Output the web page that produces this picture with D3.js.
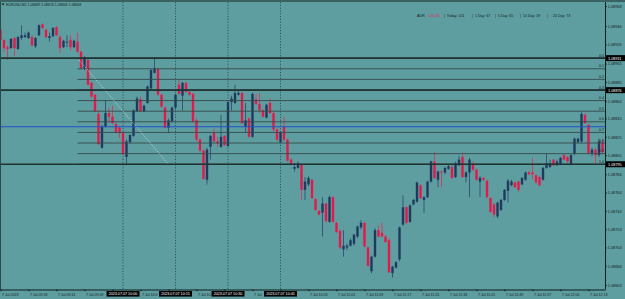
<!DOCTYPE html>
<html>
<head>
<meta charset="utf-8">
<script src="https://cdn.jsdelivr.net/npm/d3@7"></script>
<style>
  body { margin: 0; background: #5f9ea0; }
  svg { display: block; }
  text { font-family: "Liberation Sans", Arial, sans-serif; }
</style>
</head>
<body>
<svg id="chart" width="625" height="299"></svg>
<script>
// EURUSD M1, 7 Jul 2023 from 09:25 -- one row per minute: [open, high, low, close]
const symbolInfo = "EURUSD,M1  1.08669 1.08676 1.08658 1.08668";
const startTime = new Date(2023, 6, 7, 9, 25);
const candles = [
  [1.08942,1.08944,1.08930,1.08931],[1.08931,1.08931,1.08918,1.08922],[1.08923,1.08925,1.08909,1.08921],
  [1.08922,1.08933,1.08921,1.08932],[1.08933,1.08934,1.08913,1.08922],[1.08921,1.08935,1.08920,1.08934],
  [1.08933,1.08947,1.08931,1.08936],[1.08934,1.08939,1.08933,1.08936],[1.08933,1.08940,1.08932,1.08939],
  [1.08934,1.08936,1.08924,1.08925],[1.08924,1.08934,1.08922,1.08933],[1.08936,1.08948,1.08935,1.08947],
  [1.08948,1.08949,1.08943,1.08944],[1.08942,1.08943,1.08933,1.08934],[1.08933,1.08939,1.08929,1.08935],
  [1.08935,1.08945,1.08934,1.08944],[1.08945,1.08946,1.08935,1.08936],[1.08934,1.08936,1.08917,1.08922],
  [1.08923,1.08931,1.08922,1.08930],[1.08928,1.08936,1.08923,1.08929],[1.08931,1.08936,1.08920,1.08923],
  [1.08923,1.08931,1.08922,1.08930],[1.08929,1.08939,1.08917,1.08918],[1.08918,1.08919,1.08899,1.08900],
  [1.08900,1.08913,1.08898,1.08912],[1.08909,1.08911,1.08881,1.08882],[1.08884,1.08885,1.08867,1.08869],
  [1.08871,1.08872,1.08852,1.08853],[1.08850,1.08854,1.08816,1.08817],[1.08813,1.08838,1.08812,1.08836],
  [1.08836,1.08865,1.08835,1.08851],[1.08851,1.08857,1.08841,1.08847],[1.08847,1.08859,1.08839,1.08840],
  [1.08839,1.08841,1.08829,1.08830],[1.08835,1.08836,1.08824,1.08829],[1.08829,1.08830,1.08805,1.08806],
  [1.08803,1.08822,1.08794,1.08820],[1.08819,1.08828,1.08818,1.08827],[1.08826,1.08855,1.08825,1.08854],
  [1.08853,1.08869,1.08852,1.08867],[1.08866,1.08869,1.08852,1.08853],[1.08853,1.08860,1.08852,1.08859],
  [1.08862,1.08881,1.08861,1.08880],[1.08878,1.08899,1.08877,1.08898],[1.08895,1.08911,1.08894,1.08900],
  [1.08899,1.08900,1.08870,1.08871],[1.08871,1.08872,1.08857,1.08858],[1.08857,1.08858,1.08834,1.08835],
  [1.08835,1.08845,1.08829,1.08843],[1.08842,1.08858,1.08841,1.08857],[1.08857,1.08872,1.08854,1.08871],
  [1.08882,1.08887,1.08871,1.08872],[1.08870,1.08885,1.08854,1.08884],[1.08884,1.08885,1.08873,1.08874],
  [1.08874,1.08875,1.08870,1.08871],[1.08872,1.08873,1.08841,1.08842],[1.08843,1.08845,1.08820,1.08822],
  [1.08822,1.08823,1.08808,1.08810],[1.08810,1.08811,1.08778,1.08779],[1.08778,1.08813,1.08773,1.08811],
  [1.08814,1.08827,1.08800,1.08826],[1.08830,1.08834,1.08819,1.08820],[1.08820,1.08825,1.08814,1.08818],
  [1.08814,1.08849,1.08813,1.08825],[1.08826,1.08827,1.08815,1.08816],[1.08815,1.08864,1.08814,1.08863],
  [1.08863,1.08870,1.08854,1.08867],[1.08862,1.08882,1.08861,1.08873],[1.08871,1.08875,1.08870,1.08873],
  [1.08873,1.08874,1.08839,1.08840],[1.08836,1.08862,1.08830,1.08843],[1.08845,1.08846,1.08824,1.08825],
  [1.08825,1.08873,1.08824,1.08872],[1.08866,1.08872,1.08860,1.08861],[1.08861,1.08873,1.08851,1.08854],
  [1.08854,1.08855,1.08846,1.08847],[1.08846,1.08861,1.08845,1.08860],[1.08862,1.08867,1.08850,1.08851],
  [1.08851,1.08852,1.08831,1.08833],[1.08833,1.08834,1.08820,1.08822],[1.08819,1.08831,1.08818,1.08830],
  [1.08836,1.08847,1.08820,1.08822],[1.08822,1.08823,1.08798,1.08799],[1.08800,1.08802,1.08794,1.08795],
  [1.08790,1.08796,1.08787,1.08792],[1.08791,1.08798,1.08790,1.08796],[1.08794,1.08795,1.08756,1.08767],
  [1.08767,1.08781,1.08756,1.08776],[1.08773,1.08782,1.08771,1.08780],[1.08778,1.08779,1.08757,1.08758],
  [1.08757,1.08758,1.08744,1.08745],[1.08744,1.08745,1.08739,1.08740],[1.08742,1.08759,1.08716,1.08752],
  [1.08752,1.08753,1.08731,1.08733],[1.08732,1.08761,1.08731,1.08759],[1.08759,1.08760,1.08731,1.08732],
  [1.08731,1.08732,1.08720,1.08721],[1.08722,1.08724,1.08702,1.08704],[1.08702,1.08723,1.08694,1.08706],
  [1.08704,1.08708,1.08701,1.08706],[1.08706,1.08714,1.08705,1.08712],[1.08708,1.08719,1.08706,1.08718],
  [1.08716,1.08728,1.08714,1.08727],[1.08726,1.08734,1.08724,1.08731],[1.08731,1.08732,1.08704,1.08705],
  [1.08704,1.08705,1.08683,1.08684],[1.08678,1.08695,1.08676,1.08694],[1.08694,1.08725,1.08693,1.08723],
  [1.08723,1.08728,1.08715,1.08716],[1.08720,1.08731,1.08715,1.08716],[1.08716,1.08718,1.08709,1.08710],
  [1.08712,1.08714,1.08676,1.08677],[1.08676,1.08684,1.08671,1.08683],[1.08682,1.08689,1.08681,1.08688],
  [1.08691,1.08727,1.08689,1.08726],[1.08729,1.08761,1.08728,1.08748],[1.08748,1.08749,1.08730,1.08731],
  [1.08732,1.08751,1.08731,1.08750],[1.08751,1.08757,1.08750,1.08756],[1.08754,1.08776,1.08753,1.08775],
  [1.08772,1.08773,1.08757,1.08758],[1.08756,1.08760,1.08742,1.08759],[1.08759,1.08777,1.08758,1.08776],
  [1.08776,1.08799,1.08775,1.08798],[1.08798,1.08808,1.08779,1.08780],[1.08778,1.08788,1.08770,1.08787],
  [1.08787,1.08788,1.08770,1.08786],[1.08786,1.08792,1.08784,1.08791],[1.08790,1.08794,1.08789,1.08793],
  [1.08792,1.08794,1.08779,1.08780],[1.08781,1.08798,1.08780,1.08796],[1.08794,1.08804,1.08793,1.08800],
  [1.08803,1.08808,1.08780,1.08781],[1.08781,1.08787,1.08775,1.08786],[1.08786,1.08802,1.08759,1.08800],
  [1.08795,1.08798,1.08788,1.08789],[1.08789,1.08790,1.08777,1.08778],[1.08776,1.08782,1.08759,1.08780],
  [1.08780,1.08781,1.08777,1.08778],[1.08777,1.08778,1.08758,1.08759],[1.08758,1.08759,1.08742,1.08743],
  [1.08751,1.08753,1.08737,1.08740],[1.08738,1.08754,1.08736,1.08753],[1.08745,1.08757,1.08744,1.08756],
  [1.08756,1.08768,1.08755,1.08767],[1.08766,1.08779,1.08753,1.08777],[1.08772,1.08778,1.08771,1.08776],
  [1.08775,1.08776,1.08769,1.08770],[1.08776,1.08777,1.08765,1.08767],[1.08773,1.08781,1.08772,1.08780],
  [1.08778,1.08787,1.08777,1.08786],[1.08786,1.08788,1.08783,1.08784],[1.08786,1.08802,1.08778,1.08784],
  [1.08783,1.08784,1.08773,1.08775],[1.08781,1.08782,1.08771,1.08772],[1.08778,1.08792,1.08777,1.08791],
  [1.08791,1.08807,1.08790,1.08796],[1.08792,1.08800,1.08791,1.08796],[1.08800,1.08801,1.08793,1.08794],
  [1.08794,1.08800,1.08793,1.08798],[1.08795,1.08803,1.08794,1.08802],[1.08805,1.08806,1.08799,1.08800],
  [1.08803,1.08804,1.08796,1.08798],[1.08795,1.08806,1.08794,1.08805],[1.08807,1.08824,1.08805,1.08823],
  [1.08819,1.08824,1.08818,1.08823],[1.08820,1.08852,1.08818,1.08850],[1.08849,1.08851,1.08839,1.08840],
  [1.08838,1.08839,1.08806,1.08807],[1.08807,1.08813,1.08804,1.08811],[1.08811,1.08813,1.08796,1.08805],
  [1.08805,1.08823,1.08803,1.08820],[1.08819,1.08822,1.08807,1.08808]
];

// price scale labels on the right
const priceTicks = [1.08968,1.08946,1.08926,1.08905,1.08885,1.08864,1.08845,1.08825,
                    1.08805,1.08784,1.08764,1.08744,1.08724,1.08704,1.08684,1.08663];
const priceMin = 1.08663, priceMax = 1.08968;

// drawn objects
const hLines = [1.08911, 1.08876, 1.08795];
const blueLines = [1.08836];
const fibHigh = 1.08911, fibLow = 1.08795;
const fibLevels = [0, 0.1, 0.2, 0.3, 0.4, 0.5, 0.6, 0.7, 0.8, 0.9, 1.0];
const fibFrom = "09:47", fibTo = "10:13";
const vLineTimes = ["10:00", "10:15", "10:30", "10:45"];

// ADR panel
const adrLabels = ["ADR:", "145.4%", "|  Today: 101", "|  1 Day: 67", "|  5 Day: 65", "|  10 Day: 59", "|     20 Day: 73"];

function runChart() {
  const svg = d3.select('#chart');
  const W = 625, H = 299;
  const axisX = 605, axisY = 289.5;
  const ink = '#0f1d1d';

  const minuteIndex = t => {
    const [hh, mm] = t.split(':').map(Number);
    return (hh * 60 + mm) - (startTime.getHours() * 60 + startTime.getMinutes());
  };
  const timeAt = i => new Date(startTime.getTime() + i * 60000);

  const x = d3.scaleLinear().domain([0, candles.length - 1]).range([0.5, 602.5]);
  const y = d3.scaleLinear().domain([priceMin, priceMax]).range([285, 6]);

  svg.append('rect').attr('width', W).attr('height', H).attr('fill', '#5f9ea0');
  svg.append('defs').append('clipPath').attr('id', 'plotclip')
    .append('rect').attr('x', 0).attr('y', 2).attr('width', axisX).attr('height', axisY - 2);

  const plot = svg.append('g').attr('clip-path', 'url(#plotclip)');

  // vertical dotted lines
  plot.append('g').selectAll('line')
    .data(vLineTimes)
    .join('line')
    .attr('x1', d => x(minuteIndex(d))).attr('x2', d => x(minuteIndex(d)))
    .attr('y1', 2).attr('y2', axisY)
    .attr('stroke', '#2a4444').attr('stroke-width', 0.8)
    .attr('stroke-dasharray', '1.2,1.6');

  // candles
  const bull = '#1e3b5e', bear = '#e3194b';
  const candle = plot.append('g').selectAll('g')
    .data(candles)
    .join('g');
  candle.append('line')
    .attr('x1', (d, i) => x(i)).attr('x2', (d, i) => x(i))
    .attr('y1', d => y(d[1])).attr('y2', d => y(d[2]))
    .attr('stroke', d => d[3] >= d[0] ? '#2f5070' : '#d4395e')
    .attr('stroke-width', 0.9);
  candle.append('rect')
    .attr('x', (d, i) => x(i) - 1.2)
    .attr('width', 2.4)
    .attr('y', d => y(Math.max(d[0], d[3])))
    .attr('height', d => Math.max(0.8, Math.abs(y(d[0]) - y(d[3]))))
    .attr('fill', d => d[3] >= d[0] ? bull : bear);

  // fibonacci levels
  const fibX1 = x(minuteIndex(fibFrom));
  const fibY = lv => y(fibHigh - (fibHigh - fibLow) * lv);
  plot.append('g').selectAll('line')
    .data(fibLevels)
    .join('line')
    .attr('x1', fibX1).attr('x2', axisX)
    .attr('y1', fibY).attr('y2', fibY)
    .attr('stroke', '#34494a').attr('stroke-width', 0.9);

  // fib trend (dotted)
  plot.append('line')
    .attr('x1', fibX1).attr('y1', y(fibHigh))
    .attr('x2', x(minuteIndex(fibTo))).attr('y2', y(fibLow))
    .attr('stroke', '#dbe8e8').attr('stroke-width', 0.8)
    .attr('stroke-dasharray', '1,1.4');

  // horizontal lines
  plot.append('g').selectAll('line')
    .data(hLines)
    .join('line')
    .attr('x1', 0).attr('x2', axisX)
    .attr('y1', d => y(d)).attr('y2', d => y(d))
    .attr('stroke', '#1f3333').attr('stroke-width', 1.6);

  plot.append('g').selectAll('line')
    .data(blueLines)
    .join('line')
    .attr('x1', 0).attr('x2', axisX)
    .attr('y1', d => y(d)).attr('y2', d => y(d))
    .attr('stroke', '#2350c8').attr('stroke-width', 1);

  // fib labels
  svg.append('g').selectAll('text')
    .data(fibLevels)
    .join('text')
    .attr('x', 604).attr('y', d => fibY(d) - 1.4)
    .attr('text-anchor', 'end')
    .attr('font-size', 3.6)
    .attr('fill', ink)
    .text(d => d.toFixed(1));

  // frame
  svg.append('rect').attr('x', 0).attr('y', 0).attr('width', W).attr('height', 2).attr('fill', '#3a6263');
  svg.append('line').attr('x1', 0.5).attr('x2', 0.5).attr('y1', 2).attr('y2', axisY)
    .attr('stroke', '#2c4a4b').attr('stroke-width', 1);

  // price axis
  const yAxis = svg.append('g')
    .attr('transform', `translate(${axisX},0)`)
    .call(d3.axisRight(y).tickValues(priceTicks).tickSize(1.8).tickPadding(1).tickFormat(d3.format('.5f')));
  yAxis.select('.domain').attr('stroke', ink).attr('d', `M0.5,2V${axisY}`);
  yAxis.selectAll('.tick line').attr('stroke', ink);
  yAxis.selectAll('text').attr('font-size', 3.8).attr('fill', ink).attr('font-family', null);

  // time axis
  const timeTicks = d3.range(0, candles.length, 8);
  const fmtFirst = d3.timeFormat('%-d %b %Y');
  const fmtTick = d3.timeFormat('%-d %b %H:%M');
  const xAxis = svg.append('g')
    .attr('transform', `translate(0,${axisY})`)
    .call(d3.axisBottom(x).tickValues(timeTicks).tickSize(1.8).tickPadding(1)
      .tickFormat(i => i === 0 ? fmtFirst(timeAt(i)) : fmtTick(timeAt(i))));
  xAxis.select('.domain').attr('stroke', ink).attr('d', `M0,0.5H${axisX + 0.5}`);
  xAxis.selectAll('.tick line').attr('stroke', ink);
  xAxis.selectAll('text').attr('font-size', 3.6).attr('fill', ink).attr('font-family', null)
    .attr('text-anchor', 'start').attr('dx', 1).attr('dy', '0.9em');

  // vertical line time tags cover the time labels under them, as in the terminal
  const tagW = 33;
  const tagSpans = vLineTimes.map(t => [x(minuteIndex(t)) - tagW / 2, x(minuteIndex(t)) + tagW / 2]);
  xAxis.selectAll('.tick').each(function(i) {
    const t = d3.select(this).select('text');
    const start = x(i) + 1;
    for (const [a, b] of tagSpans) {
      if (start >= a - 0.5 && start < b) { t.remove(); return; }
      let s = t.text();
      while (s.length && start < a && start + t.node().getComputedTextLength() > a - 0.6) {
        s = s.slice(0, -1);
        t.text(s);
      }
    }
  });

  const fmtFull = d3.timeFormat('%Y.%m.%d %H:%M');
  const vt = svg.append('g').selectAll('g')
    .data(vLineTimes)
    .join('g')
    .attr('transform', d => `translate(${x(minuteIndex(d))},${axisY + 1.5})`);
  vt.append('rect').attr('x', -tagW / 2).attr('y', 0).attr('width', tagW).attr('height', 5.6).attr('fill', '#000');
  vt.append('text').attr('x', 0).attr('y', 4.1).attr('text-anchor', 'middle')
    .attr('font-size', 3.7).attr('fill', '#fff')
    .text(d => fmtFull(timeAt(minuteIndex(d))));

  // highlighted line prices on the price axis
  const tags = svg.append('g').selectAll('g')
    .data(hLines)
    .join('g')
    .attr('transform', d => `translate(${axisX + 1},${y(d)})`);
  tags.append('rect').attr('x', 0).attr('y', -3).attr('width', 19).attr('height', 6).attr('fill', '#000');
  tags.append('text').attr('x', 2).attr('y', 1.4).attr('font-size', 3.8).attr('fill', '#fff')
    .text(d => d3.format('.5f')(d));

  // symbol header
  svg.append('path').attr('d', 'M1.5,3.6 L4.5,3.6 L3,5.6 Z').attr('fill', ink);
  svg.append('text').attr('x', 6).attr('y', 6).attr('font-size', 3.5).attr('fill', ink)
    .text(symbolInfo);

  // ADR panel
  const adrX = [417, 428, 444, 472, 495, 520, 547];
  svg.append('g').selectAll('text')
    .data(adrLabels)
    .join('text')
    .attr('x', (d, i) => adrX[i]).attr('y', 16.6)
    .attr('font-size', 3.6)
    .attr('fill', (d, i) => i === 1 ? '#e3194b' : ink)
    .style('white-space', 'pre')
    .text(d => d);
}

document.addEventListener('DOMContentLoaded', runChart);
</script>
</body>
</html>
